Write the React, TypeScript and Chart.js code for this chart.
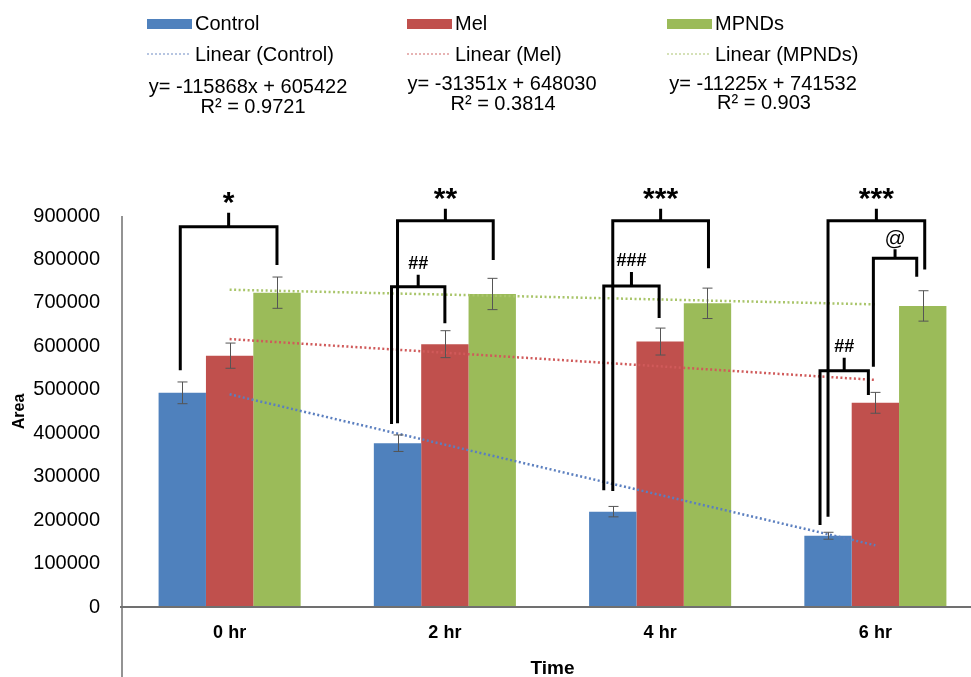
import React, { useEffect, useRef } from "react";
import { Chart, registerables } from "chart.js";

Chart.register(...registerables);

// ---------------- data ----------------
const categories = ["0 hr", "2 hr", "4 hr", "6 hr"];
const seriesNames = ["Control", "Mel", "MPNDs"];
const controlValues = [493000, 377000, 219500, 164000];
const melValues = [578500, 605000, 611000, 470000];
const mpndsValues = [723500, 720500, 699000, 693000];
const controlErrors = [25000, 19000, 12000, 8000];
const melErrors = [29000, 31000, 31000, 24000];
const mpndsErrors = [36000, 36000, 35000, 35000];
const controlTrend = [489554, 373686, 257818, 141950];
const melTrend = [616679, 585328, 553977, 522626];
const mpndsTrend = [730307, 719082, 707857, 696632];
const yTickValues = [0, 100000, 200000, 300000, 400000, 500000, 600000, 700000, 800000, 900000];
const equations = ["y= -115868x + 605422", "y= -31351x + 648030", "y= -11225x + 741532"];
const rSquared = ["R\u00B2 = 0.9721", "R\u00B2 = 0.3814", "R\u00B2 = 0.903"];

// significance brackets: category, bar index from/to, values of top and leg ends
const bracketLabels = ["*", "**", "##", "***", "###", "***", "@", "##"];
const bracketCats = [0, 1, 1, 2, 2, 3, 3, 3];
const bracketFrom = [0, 0, 0, 0, 0, 0, 1, 0];
const bracketTo = [2, 2, 1, 2, 1, 2, 2, 1];
const bracketTop = [875000, 889000, 737000, 889000, 739000, 889000, 803000, 544000];
const bracketLeftEnd = [545000, 423000, 421000, 267000, 269000, 208000, 553000, 189000];
const bracketRightEnd = [787000, 799000, 653000, 780000, 665000, 777000, 760000, 488000];

// ---------------- styles ----------------
const barColors = ["#4F81BD", "#C0504D", "#9BBB59"];
const trendColors = ["#5b7fbf", "#d05a5a", "#a9c56a"];
const legendTrendColors = ["#9fb3d8", "#e09a9a", "#c8d8a0"];
const FONT = '"Liberation Sans", Arial, sans-serif';
const bracketFromShift = [-2, 0, -6, 0, -9, 0, -2, -8];
const bracketToShift = [0, 1, 0, 1, -1, 2, -6, -7];
const bracketTickLen = [14, 12, 12, 12, 14, 12, 9, 13];

const overlayPlugin = {
  id: "overlay",
  beforeDatasetsDraw(chart: any) {
    const ctx = chart.ctx;
    const a = chart.chartArea;
    ctx.save();
    ctx.strokeStyle = "#6f6f6f";
    ctx.lineWidth = 1.5;
    ctx.beginPath();
    ctx.moveTo(a.left, a.top);
    ctx.lineTo(a.left, chart.height);
    ctx.stroke();
    ctx.restore();
  },
  afterDatasetsDraw(chart: any) {
    const ctx = chart.ctx;
    const a = chart.chartArea;
    const ys = chart.scales.y;
    // x axis line
    ctx.save();
    ctx.strokeStyle = "#707070";
    ctx.lineWidth = 2;
    ctx.beginPath();
    ctx.moveTo(a.left - 2, ys.getPixelForValue(0));
    ctx.lineTo(chart.width, ys.getPixelForValue(0));
    ctx.stroke();

    // error bars
    const vals = [controlValues, melValues, mpndsValues];
    const errs = [controlErrors, melErrors, mpndsErrors];
    ctx.strokeStyle = "#555555";
    ctx.lineWidth = 1;
    for (let d = 0; d < 3; d++) {
      const meta = chart.getDatasetMeta(d);
      meta.data.forEach((bar: any, i: number) => {
        const x = Math.round(bar.x) + 0.5;
        const yt = ys.getPixelForValue(vals[d][i] + errs[d][i]);
        const yb = ys.getPixelForValue(vals[d][i] - errs[d][i]);
        ctx.beginPath();
        ctx.moveTo(x, yt);
        ctx.lineTo(x, yb);
        ctx.moveTo(x - 5, yt);
        ctx.lineTo(x + 5, yt);
        ctx.moveTo(x - 5, yb);
        ctx.lineTo(x + 5, yb);
        ctx.stroke();
      });
    }

    // brackets
    ctx.strokeStyle = "#000";
    ctx.fillStyle = "#000";
    ctx.lineWidth = 3;
    ctx.lineJoin = "miter";
    ctx.textAlign = "center";
    ctx.textBaseline = "alphabetic";
    for (let k = 0; k < bracketLabels.length; k++) {
      const c = bracketCats[k];
      const x1 = chart.getDatasetMeta(bracketFrom[k]).data[c].x + bracketFromShift[k];
      const x2 = chart.getDatasetMeta(bracketTo[k]).data[c].x + bracketToShift[k];
      const yTop = ys.getPixelForValue(bracketTop[k]);
      const yL = ys.getPixelForValue(bracketLeftEnd[k]);
      const yR = ys.getPixelForValue(bracketRightEnd[k]);
      const xm = (x1 + x2) / 2;
      const tickTop = yTop - bracketTickLen[k];
      ctx.beginPath();
      ctx.moveTo(x1, yL);
      ctx.lineTo(x1, yTop);
      ctx.lineTo(x2, yTop);
      ctx.lineTo(x2, yR);
      ctx.moveTo(xm, yTop);
      ctx.lineTo(xm, tickTop);
      ctx.stroke();
      const lab = bracketLabels[k];
      if (lab.startsWith("*")) {
        ctx.font = `bold 30px ${FONT}`;
        ctx.fillText(lab, xm, tickTop - 1);
      } else if (lab === "@") {
        ctx.font = `21px ${FONT}`;
        ctx.fillText(lab, xm, tickTop - 4);
      } else {
        ctx.font = `bold 18px ${FONT}`;
        ctx.fillText(lab, xm, tickTop - 6);
      }
    }
    ctx.restore();
  },
  afterDraw(chart: any) {
    const ctx = chart.ctx;
    ctx.save();
    const swatchX = [147, 407, 667];
    const textX = [195, 455, 715];
    const eqX = [248, 502, 763];
    const eqY = [87, 84, 84];
    const r2X = [253, 503, 764];
    const r2Y = [107, 104, 103];
    ctx.font = `20px ${FONT}`;
    ctx.fillStyle = "#000";
    ctx.textBaseline = "middle";
    for (let i = 0; i < 3; i++) {
      ctx.fillStyle = barColors[i];
      ctx.fillRect(swatchX[i], 19, 45, 10);
      ctx.fillStyle = "#000";
      ctx.textAlign = "left";
      ctx.fillText(seriesNames[i], textX[i], 24);
      ctx.strokeStyle = legendTrendColors[i];
      ctx.lineWidth = 1.5;
      ctx.setLineDash([2, 2]);
      ctx.beginPath();
      ctx.moveTo(swatchX[i], 54);
      ctx.lineTo(swatchX[i] + 43, 54);
      ctx.stroke();
      ctx.setLineDash([]);
      ctx.fillText(`Linear (${seriesNames[i]})`, textX[i], 55);
      ctx.textAlign = "center";
      ctx.fillText(equations[i], eqX[i], eqY[i]);
      ctx.fillText(rSquared[i], r2X[i], r2Y[i]);
    }
    ctx.restore();
  },
};

export default function App() {
  const ref = useRef<HTMLCanvasElement | null>(null);
  useEffect(() => {
    if (!ref.current) return;
    const valueSets = [controlValues, melValues, mpndsValues];
    const trendSets = [controlTrend, melTrend, mpndsTrend];
    const datasets: any[] = [];
    for (let i = 0; i < 3; i++) {
      datasets.push({
        type: "bar",
        label: seriesNames[i],
        data: valueSets[i],
        backgroundColor: barColors[i],
        borderWidth: 0,
        categoryPercentage: 0.66,
        barPercentage: 1.0,
        order: 2,
      });
    }
    for (let i = 0; i < 3; i++) {
      datasets.push({
        type: "line",
        label: `Linear (${seriesNames[i]})`,
        data: trendSets[i],
        borderColor: trendColors[i],
        borderWidth: 2.5,
        borderDash: [2, 2.5],
        pointRadius: 0,
        fill: false,
        tension: 0,
        order: 1,
      });
    }
    const chart = new Chart(ref.current, {
      type: "bar",
      data: { labels: categories, datasets },
      options: {
        responsive: false,
        animation: false,
        devicePixelRatio: 1,
        layout: { padding: { top: 216, right: 17, left: 0, bottom: 0 } },
        plugins: { legend: { display: false }, tooltip: { enabled: false } },
        scales: {
          x: {
            offset: true,
            grid: { display: false, drawTicks: false },
            border: { display: false },
            ticks: {
              color: "#000",
              font: { family: FONT, size: 18, weight: "bold" },
              padding: 15,
            },
            title: {
              display: true,
              text: "Time",
              color: "#000",
              font: { family: FONT, size: 19, weight: "bold", lineHeight: 1 },
              padding: { top: 0, bottom: -1 },
            },
            afterFit: (s: any) => {
              s.height = 70;
            },
          },
          y: {
            min: 0,
            max: 900000,
            afterBuildTicks: (s: any) => {
              s.ticks = yTickValues.map((v) => ({ value: v }));
            },
            grid: { display: false, drawTicks: false },
            border: { display: false },
            ticks: {
              color: "#000",
              font: { family: FONT, size: 20 },
              padding: 22,
              callback: (v: any) => String(v),
            },
            title: {
              display: true,
              text: "Area",
              color: "#000",
              font: { family: FONT, size: 16, weight: "bold", lineHeight: 1.2 },
              padding: { top: 10, bottom: 0 },
            },
            afterFit: (s: any) => {
              s.width = 122;
            },
          },
        },
      },
      plugins: [overlayPlugin],
    } as any);
    return () => chart.destroy();
  }, []);
  return (
    <div
      style={{
        position: "fixed",
        left: 0,
        top: 0,
        width: 971,
        height: 677,
        overflow: "hidden",
        background: "#fff",
      }}
    >
      <canvas ref={ref} width={1000} height={677} style={{ width: 1000, height: 677, display: "block" }} />
    </div>
  );
}
